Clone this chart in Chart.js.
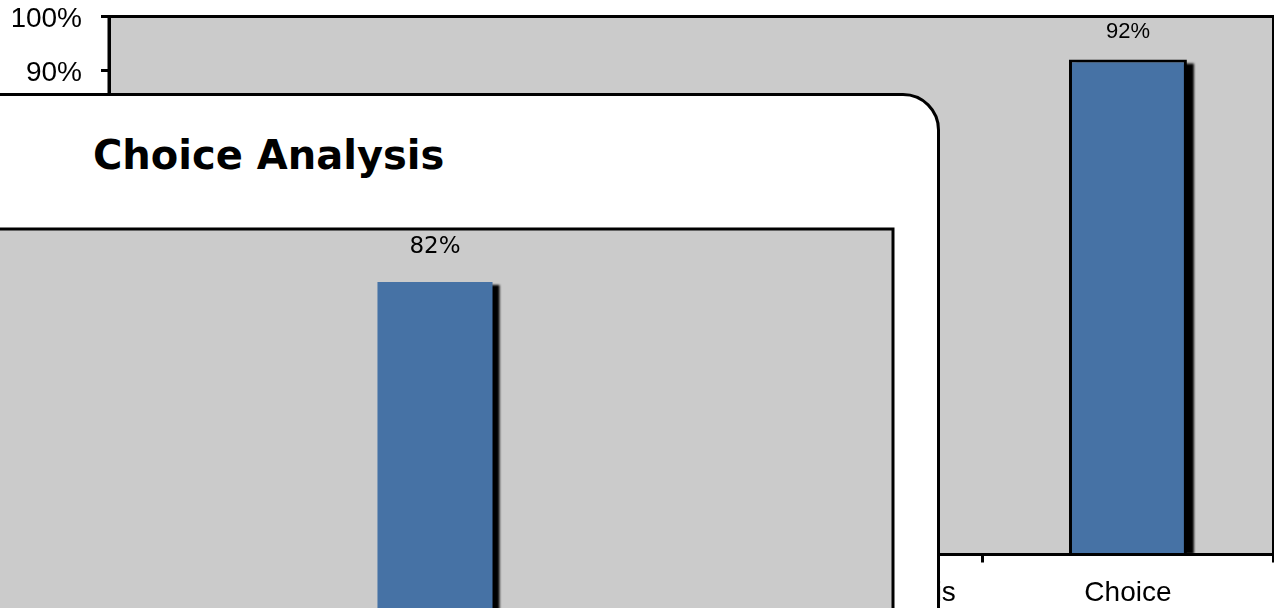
<!DOCTYPE html>
<html>
<head>
<meta charset="utf-8">
<title>Choice Analysis</title>
<script src="https://cdn.jsdelivr.net/npm/chart.js@4.4.1/dist/chart.umd.min.js"></script>
<style>
    html, body { margin: 0; padding: 0; width: 1274px; height: 608px; overflow: hidden; background: #fff; }
    #overview { position: absolute; left: 0; top: 0; }
    #panel { position: absolute; left: -10px; top: 93px; width: 950px; height: 620px; box-sizing: border-box;
             background: #fff; border: 3px solid #000; border-top-right-radius: 37px; }
    #panel_title { position: absolute; left: 93px; top: 135px; font: bold 40px "DejaVu Sans"; line-height: 40px;
                   white-space: nowrap; color: #000; }
    #choice { position: absolute; left: -27px; top: 225px; }
</style>
</head>
<body>
<canvas id="overview" width="1274" height="608"></canvas>
<div id="panel"></div>
<div id="panel_title">Choice Analysis</div>
<canvas id="choice" width="924" height="604"></canvas>
<script>
// overview chart (behind the panel)
var overviewLabels = ['Framing', 'Alternatives', 'Sensitivity Analysis', 'Choice'];
var overviewValues = [null, null, null, 92];
var overviewTicks = [0, 10, 20, 30, 40, 50, 60, 70, 80, 90, 100];

// choice analysis chart (in the panel)
var choiceLabels = ['Choice'];
var choiceValues = [82];
var choiceTicks = [0, 10, 20, 30, 40, 50, 60, 70, 80, 90];

var barBlue = '#4672a5';
var plotGrey = '#cbcbcb';

// grey plot area, black frame, bar shadows and % labels
var plotFrame = {
    id: 'plotFrame',
    beforeDraw: function(chart, args, opts) {
        var a = chart.chartArea;
        var ctx = chart.ctx;
        ctx.save();
        ctx.fillStyle = plotGrey;
        ctx.fillRect(a.left, a.top, a.right - a.left, a.bottom - a.top);
        ctx.restore();
    },
    beforeDatasetsDraw: function(chart, args, opts) {
        var ctx = chart.ctx;
        var values = chart.data.datasets[0].data;
        ctx.save();
        ctx.fillStyle = '#000';
        ctx.filter = 'blur(1px)';
        chart.getDatasetMeta(0).data.forEach(function(bar, i) {
            if (values[i] == null) return;
            var w = bar.width;
            ctx.fillRect(bar.x - w / 2 + opts.shadowX, bar.y + opts.shadowY, w, bar.base - bar.y - opts.shadowY);
        });
        ctx.restore();
    },
    afterDatasetsDraw: function(chart, args, opts) {
        var a = chart.chartArea;
        var ctx = chart.ctx;
        var values = chart.data.datasets[0].data;
        ctx.save();
        ctx.strokeStyle = '#000';
        ctx.lineWidth = 3;
        ctx.strokeRect(a.left, a.top, a.right - a.left, a.bottom - a.top);

        ctx.fillStyle = '#000';
        ctx.font = opts.labelFont;
        ctx.textAlign = 'center';
        ctx.textBaseline = 'middle';
        chart.getDatasetMeta(0).data.forEach(function(bar, i) {
            if (values[i] == null) return;
            ctx.fillText(values[i] + '%', bar.x, bar.y - opts.labelGap);
        });
        ctx.restore();
    }
};

function fixedTicks(list) {
    return function(scale) {
        scale.ticks = list.map(function(v) { return { value: v }; });
    };
}

var overview_ctx = document.getElementById('overview').getContext('2d');
var overview_chart = new Chart(overview_ctx, {
    type: 'bar',
    data: {
        labels: overviewLabels,
        datasets: [{
            data: overviewValues,
            backgroundColor: barBlue,
            borderColor: '#000',
            borderWidth: 3,
            borderSkipped: 'bottom',
            barPercentage: 0.405,
            categoryPercentage: 1
        }]
    },
    options: {
        responsive: false,
        animation: false,
        events: [],
        layout: { padding: { left: 13, top: 16.5, right: 0.5, bottom: 0 } },
        plugins: {
            legend: { display: false },
            tooltip: { enabled: false },
            plotFrame: { shadowX: 7, shadowY: 4, labelGap: 28, labelFont: '22px "Liberation Sans", Arial, sans-serif' }
        },
        scales: {
            x: {
                grid: { offset: true, drawOnChartArea: false, tickLength: 8, tickWidth: 3, tickColor: '#000' },
                border: { color: '#000', width: 3 },
                ticks: {
                    color: '#000', padding: 15, maxRotation: 0, autoSkip: false,
                    font: { family: '"Liberation Sans", Arial, sans-serif', size: 28, lineHeight: 1.15 }
                },
                afterFit: function(scale) {
                    scale.height = 53.5;
                    scale.paddingLeft = 0;
                    scale.paddingRight = 0;
                }
            },
            y: {
                min: 0,
                max: 100,
                afterBuildTicks: fixedTicks(overviewTicks),
                grid: { drawOnChartArea: false, tickLength: 8, tickWidth: 3, tickColor: '#000' },
                border: { color: '#000', width: 3 },
                ticks: {
                    color: '#000', padding: 19, labelOffset: 3,
                    font: { family: '"Liberation Sans", Arial, sans-serif', size: 28 },
                    callback: function(v) { return v + '%'; }
                },
                afterFit: function(scale) {
                    scale.width = 96;
                    scale.paddingTop = 0;
                    scale.paddingBottom = 0;
                }
            }
        }
    },
    plugins: [plotFrame]
});

var choice_ctx = document.getElementById('choice').getContext('2d');
var choice_chart = new Chart(choice_ctx, {
    type: 'bar',
    data: {
        labels: choiceLabels,
        datasets: [{
            data: choiceValues,
            backgroundColor: barBlue,
            borderWidth: 0,
            barPercentage: 0.1256,
            categoryPercentage: 1
        }]
    },
    options: {
        responsive: false,
        animation: false,
        events: [],
        layout: { padding: 4 },
        plugins: {
            legend: { display: false },
            tooltip: { enabled: false },
            plotFrame: { shadowX: 7, shadowY: 3, labelGap: 35, labelFont: '23px "DejaVu Sans", sans-serif' }
        },
        scales: {
            // axes sit below and left of the visible window
            x: { display: false },
            y: { display: false, min: 0, max: 90, afterBuildTicks: fixedTicks(choiceTicks) }
        }
    },
    plugins: [plotFrame]
});
</script>
</body>
</html>
